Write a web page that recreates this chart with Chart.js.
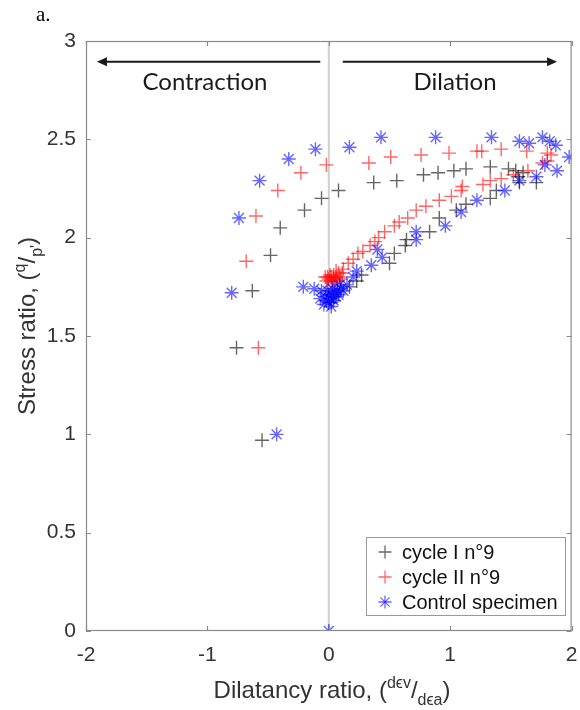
<!DOCTYPE html>
<html>
<head>
<meta charset="utf-8">
<script src="https://cdn.jsdelivr.net/npm/chart.js@4.4.0/dist/chart.umd.min.js"></script>
<style>
  html, body { margin: 0; padding: 0; background: #fff; }
  #wrap { width: 580px; height: 710px; position: relative; }
</style>
</head>
<body>
<div id="wrap"><canvas id="c" width="580" height="710"></canvas></div>
<script>
// ---- Data ----
const xTickLabels = ['-2', '-1', '0', '1', '2'];
const yTickLabels = ['0', '0.5', '1', '1.5', '2', '2.5', '3'];
const seriesNames = ['cycle I n°9', 'cycle II n°9', 'Control specimen'];

const cycleIPoints = [
  [-0.55, 0.97], [-0.76, 1.44], [-0.63, 1.73], [-0.48, 1.91], [-0.40, 2.05],
  [-0.20, 2.14], [-0.06, 2.20], [0.08, 2.24], [0.37, 2.28], [0.56, 2.29],
  [0.78, 2.32], [0.90, 2.33], [1.03, 2.34], [1.13, 2.35], [1.33, 2.36],
  [1.48, 2.35], [1.54, 2.34], [1.60, 2.33], [1.56, 2.31], [1.57, 2.28],
  [1.71, 2.28], [1.38, 2.24], [1.33, 2.20], [1.13, 2.17], [1.05, 2.14],
  [0.91, 2.10], [0.83, 2.03], [0.64, 1.99], [0.63, 1.96], [0.54, 1.92],
  [0.50, 1.87], [0.27, 1.81], [0.23, 1.78], [0.17, 1.75], [0.04, 1.70],
  [0.02, 1.67]
];

const cycleIIPoints = [
  [-0.58, 1.44], [-0.68, 1.88], [-0.60, 2.11], [-0.42, 2.24], [-0.23, 2.33],
  [-0.02, 2.37], [0.33, 2.38], [0.51, 2.41], [0.76, 2.42], [0.99, 2.43],
  [1.22, 2.44], [1.26, 2.44], [1.42, 2.45], [1.63, 2.44], [1.80, 2.43],
  [1.83, 2.42], [1.80, 2.39], [1.76, 2.38], [1.64, 2.34], [1.52, 2.32],
  [1.42, 2.30], [1.33, 2.29], [1.27, 2.27], [1.10, 2.26], [1.09, 2.24],
  [1.01, 2.21], [0.91, 2.19], [0.80, 2.16], [0.72, 2.14], [0.65, 2.10],
  [0.58, 2.08], [0.54, 2.06], [0.46, 2.03], [0.41, 2.00], [0.38, 1.98],
  [0.34, 1.96], [0.28, 1.93], [0.24, 1.92], [0.20, 1.89], [0.16, 1.87],
  [0.12, 1.84], [0.08, 1.82], [0.06, 1.80], [0.04, 1.79], [0.02, 1.78],
  [0.00, 1.79], [-0.02, 1.78], [0.01, 1.81], [0.03, 1.77], [0.05, 1.78],
  [-0.01, 1.80], [0.02, 1.80], [0.04, 1.81], [0.09, 1.80], [0.11, 1.82],
  [0.07, 1.78], [-0.03, 1.80], [0.06, 1.83], [0.10, 1.79]
];

const controlPoints = [
  [0.00, 0.00], [-0.43, 1.00], [-0.80, 1.72], [-0.74, 2.10], [-0.57, 2.29],
  [-0.33, 2.40], [-0.11, 2.45], [0.17, 2.46], [0.43, 2.51], [0.88, 2.51],
  [1.34, 2.51], [1.57, 2.49], [1.65, 2.48], [1.76, 2.51], [1.82, 2.49],
  [1.87, 2.47], [1.98, 2.41], [1.78, 2.37], [1.88, 2.34], [1.71, 2.31],
  [1.57, 2.29], [1.45, 2.24], [1.22, 2.19], [1.09, 2.13], [0.96, 2.06],
  [0.72, 2.03], [0.72, 1.99], [0.44, 1.90], [0.40, 1.94], [0.35, 1.86],
  [0.23, 1.83], [0.20, 1.80], [0.15, 1.76], [0.12, 1.73], [0.09, 1.76],
  [-0.21, 1.75], [-0.12, 1.74], [-0.06, 1.73], [-0.03, 1.70], [-0.02, 1.68],
  [0.00, 1.67], [0.01, 1.69], [0.03, 1.71], [0.05, 1.72], [0.07, 1.73],
  [0.10, 1.74], [-0.04, 1.66], [0.02, 1.65], [0.04, 1.68], [0.06, 1.70],
  [0.00, 1.71], [-0.01, 1.73], [0.08, 1.71], [-0.07, 1.69], [0.03, 1.74]
];

// ---- Styles ----
const colBlack = 'rgba(0,0,0,0.6)';
const colRed = 'rgba(255,0,0,0.6)';
const colBlue = 'rgba(0,0,255,0.6)';
const toXY = arr => arr.map(p => ({ x: p[0], y: p[1] }));

const FONT = '"Liberation Sans", Arial, sans-serif';

function drawRuns(ctx, runs, cx, cy) {
  let total = 0;
  runs.forEach(r => { ctx.font = r.size + 'px ' + FONT; r.w = ctx.measureText(r.t).width; total += r.w; });
  let x = cx - total / 2;
  ctx.textAlign = 'left';
  ctx.textBaseline = 'alphabetic';
  runs.forEach(r => { ctx.font = r.size + 'px ' + FONT; ctx.fillText(r.t, x, cy + r.dy); x += r.w; });
}

function markerCross(ctx, x, y, r) {
  ctx.beginPath();
  ctx.moveTo(x - r, y); ctx.lineTo(x + r, y);
  ctx.moveTo(x, y - r); ctx.lineTo(x, y + r);
  ctx.stroke();
}
function markerStar(ctx, x, y, r) {
  markerCross(ctx, x, y, r);
  const d = r * Math.SQRT1_2;
  ctx.beginPath();
  ctx.moveTo(x - d, y - d); ctx.lineTo(x + d, y + d);
  ctx.moveTo(x + d, y - d); ctx.lineTo(x - d, y + d);
  ctx.stroke();
}

const decor = {
  id: 'decor',
  beforeDatasetsDraw(chart) {
    const { ctx, chartArea: a, scales: { x } } = chart;
    ctx.save();
    ctx.strokeStyle = '#cfcfcf';
    ctx.lineWidth = 2;
    const x0 = x.getPixelForValue(0);
    ctx.beginPath(); ctx.moveTo(x0, a.top); ctx.lineTo(x0, a.bottom); ctx.stroke();
    ctx.restore();
  },
  afterDatasetsDraw(chart) {
    const { ctx, chartArea: a, scales: { x, y } } = chart;
    ctx.save();
    // box
    ctx.strokeStyle = '#8a8a8a';
    ctx.lineWidth = 1.2;
    ctx.strokeRect(a.left + 0.5, a.top + 0.5, a.right - a.left - 1, a.bottom - a.top - 1);
    // inner ticks
    ctx.beginPath();
    x.ticks.forEach(t => {
      const px = Math.round(x.getPixelForValue(t.value)) + 0.5;
      ctx.moveTo(px, a.bottom); ctx.lineTo(px, a.bottom - 5);
      ctx.moveTo(px, a.top); ctx.lineTo(px, a.top + 5);
    });
    y.ticks.forEach(t => {
      const py = Math.round(y.getPixelForValue(t.value)) + 0.5;
      ctx.moveTo(a.left, py); ctx.lineTo(a.left + 5, py);
      ctx.moveTo(a.right, py); ctx.lineTo(a.right - 5, py);
    });
    ctx.stroke();

    // arrows
    const ay = y.getPixelForValue(2.895);
    ctx.strokeStyle = '#1a1a1a';
    ctx.fillStyle = '#1a1a1a';
    ctx.lineWidth = 2;
    const lA = x.getPixelForValue(-0.07), lB = x.getPixelForValue(-1.91);
    const rA = x.getPixelForValue(0.115), rB = x.getPixelForValue(1.88);
    ctx.beginPath(); ctx.moveTo(lA, ay); ctx.lineTo(lB + 6, ay); ctx.stroke();
    ctx.beginPath(); ctx.moveTo(lB, ay); ctx.lineTo(lB + 10, ay - 4.5); ctx.lineTo(lB + 10, ay + 4.5); ctx.closePath(); ctx.fill();
    ctx.beginPath(); ctx.moveTo(rA, ay); ctx.lineTo(rB - 6, ay); ctx.stroke();
    ctx.beginPath(); ctx.moveTo(rB, ay); ctx.lineTo(rB - 10, ay - 4.5); ctx.lineTo(rB - 10, ay + 4.5); ctx.closePath(); ctx.fill();

    ctx.font = '24px Lato, "Open Sans", sans-serif';
    ctx.textAlign = 'center';
    ctx.textBaseline = 'middle';
    ctx.fillText('Contraction', x.getPixelForValue(-1.02), y.getPixelForValue(2.79));
    ctx.fillText('Dilation', x.getPixelForValue(1.04), y.getPixelForValue(2.79));

    // legend
    const L = { l: 366, t: 537, r: 565, b: 615 };
    ctx.fillStyle = '#fff';
    ctx.fillRect(L.l, L.t, L.r - L.l, L.b - L.t);
    ctx.strokeStyle = '#9a9a9a';
    ctx.lineWidth = 1;
    ctx.strokeRect(L.l + 0.5, L.t + 0.5, L.r - L.l, L.b - L.t);
    const rows = [552, 577, 602];
    const cols = [colBlack, colRed, colBlue];
    ctx.lineWidth = 1.3;
    rows.forEach((ry, i) => {
      ctx.strokeStyle = cols[i];
      if (i < 2) markerCross(ctx, 385, ry, 6.5); else markerStar(ctx, 385, ry, 6.5);
      ctx.fillStyle = '#111';
      ctx.font = '20px ' + FONT;
      ctx.textAlign = 'left';
      ctx.textBaseline = 'middle';
      ctx.fillText(seriesNames[i], 402, ry + 1);
    });

    // axis titles
    ctx.fillStyle = '#333';
    drawRuns(ctx, [
      { t: 'Dilatancy ratio, (', size: 24, dy: 0 },
      { t: 'd\u03F5v', size: 16, dy: -10 },
      { t: '/', size: 24, dy: 0 },
      { t: 'd\u03F5a', size: 16, dy: 7 },
      { t: ')', size: 24, dy: 0 }
    ], 332, 698);
    ctx.save();
    ctx.translate(35, 326);
    ctx.rotate(-Math.PI / 2);
    drawRuns(ctx, [
      { t: 'Stress ratio, (', size: 24, dy: 0 },
      { t: 'q', size: 16, dy: -10 },
      { t: '/', size: 24, dy: 0 },
      { t: "p'", size: 16, dy: 7 },
      { t: ')', size: 24, dy: 0 }
    ], 0, 0);
    ctx.restore();

    // panel label
    ctx.fillStyle = '#000';
    ctx.font = '21px "Liberation Serif", "Times New Roman", serif';
    ctx.textAlign = 'left';
    ctx.textBaseline = 'middle';
    ctx.fillText('a.', 36, 15);
    ctx.restore();
  }
};

new Chart(document.getElementById('c'), {
  type: 'scatter',
  data: {
    datasets: [
      { label: seriesNames[0], data: toXY(cycleIPoints), pointStyle: 'cross', radius: 7,
        borderColor: colBlack, backgroundColor: colBlack, borderWidth: 1.4, order: 3 },
      { label: seriesNames[1], data: toXY(cycleIIPoints), pointStyle: 'cross', radius: 7,
        borderColor: colRed, backgroundColor: colRed, borderWidth: 1.4, order: 2 },
      { label: seriesNames[2], data: toXY(controlPoints), pointStyle: 'star', radius: 7,
        borderColor: colBlue, backgroundColor: colBlue, borderWidth: 1.4, order: 1 }
    ]
  },
  options: {
    responsive: false,
    animation: false,
    events: [],
    layout: { padding: { top: 41, right: 8, left: 0, bottom: 0 } },
    plugins: { legend: { display: false }, tooltip: { enabled: false } },
    scales: {
      x: {
        type: 'linear', min: -2, max: 2,
        grid: { display: false }, border: { display: false },
        ticks: { stepSize: 1, padding: 4, color: '#333', font: { size: 21, family: FONT },
          maxRotation: 0, callback: (v) => xTickLabels[Math.round(v + 2)] },
        afterFit: (s) => { s.height = 79; s.paddingLeft = 0; s.paddingRight = 0; }
      },
      y: {
        type: 'linear', min: 0, max: 3,
        grid: { display: false }, border: { display: false },
        ticks: { stepSize: 0.5, padding: 2, color: '#333', font: { size: 21, family: FONT },
          callback: (v) => yTickLabels[Math.round(v * 2)] },
        afterFit: (s) => { s.width = 86; s.paddingTop = 0; s.paddingBottom = 0; }
      }
    }
  },
  plugins: [decor]
});
</script>
</body>
</html>
